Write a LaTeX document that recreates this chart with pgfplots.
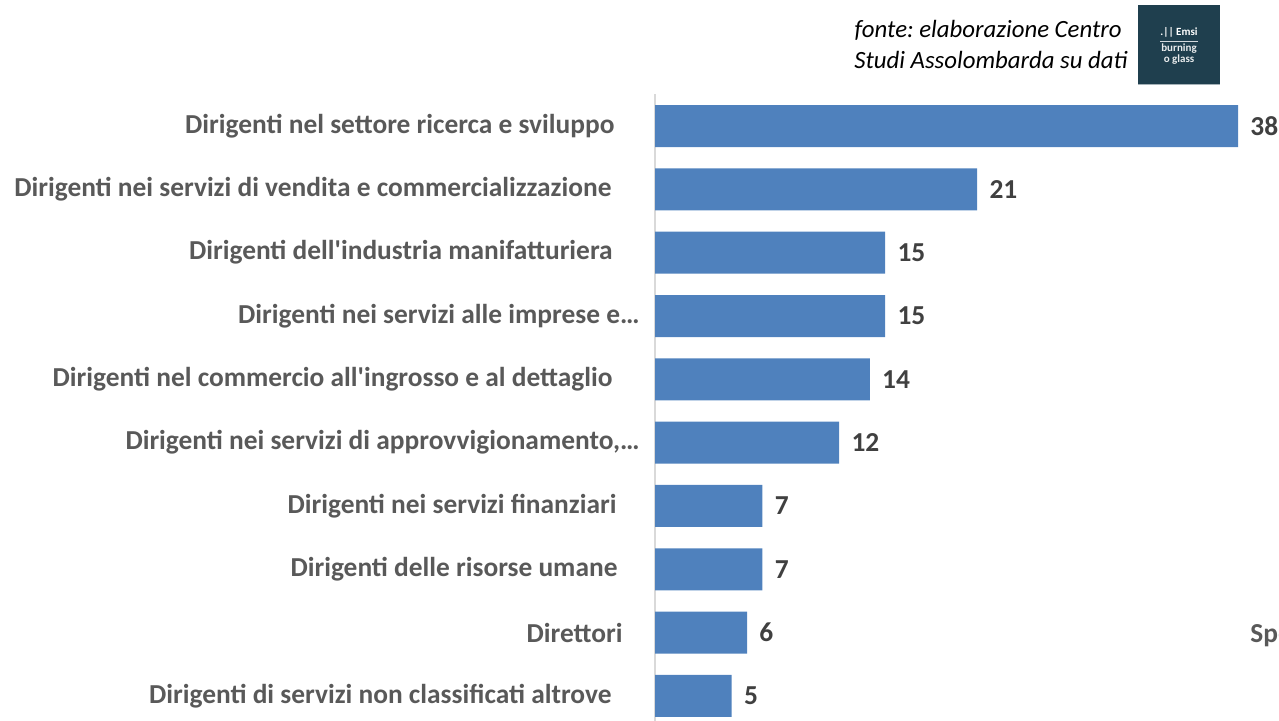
\documentclass[border=0pt]{standalone}
\usepackage{pgfplots}
\pgfplotsset{compat=1.18}
\usepackage{fontspec}
\setmainfont{Carlito}
\frenchspacing
\definecolor{barblue}{HTML}{4F81BD}
\definecolor{labgray}{HTML}{595959}
\definecolor{valgray}{HTML}{404040}
\definecolor{logobg}{HTML}{1F3F4E}
\begin{document}
\begin{tikzpicture}
\useasboundingbox (0,0) rectangle (639.5pt,360.5pt);
\begin{axis}[
  at={(327.5pt,-3.325pt)}, anchor=south west,
  scale only axis, width=291.5pt, height=316.65pt,
  xmin=0, xmax=38, ymin=-0.5, ymax=9.5,
  y dir=reverse,
  clip=false,
  hide x axis,
  axis y line*=left,
  y axis line style={draw=black!15, line width=0.6pt, -},
  major tick length=0pt,
  ytick={0,...,9},
  yticklabels={
    {Dirigenti nel settore ricerca e sviluppo\hspace*{12.5pt}},
    {Dirigenti nei servizi di vendita e commercializzazione\hspace*{14pt}},
    {Dirigenti dell\textquotesingle industria manifatturiera\hspace*{13.5pt}},
    {Dirigenti nei servizi alle imprese e…},
    {Dirigenti nel commercio all\textquotesingle ingrosso e al dettaglio\hspace*{13.5pt}},
    {Dirigenti nei servizi di approvvigionamento,…},
    {Dirigenti nei servizi finanziari\hspace*{11.5pt}},
    {Dirigenti delle risorse umane\hspace*{11pt}},
    {Direttori\hspace*{8.5pt}},
    {Dirigenti di servizi non classificati altrove\hspace*{14pt}}},
  yticklabel style={font=\bfseries\fontsize{13.7}{15}\selectfont, text=labgray, inner sep=0pt, anchor=east, xshift=-7.5pt},
  point meta=x,
  nodes near coords={\pgfmathprintnumber[assume math mode=true]{\pgfplotspointmeta}},
  nodes near coords style={font=\bfseries\fontsize{13.7}{15}\selectfont, text=valgray, anchor=west, inner sep=0pt, xshift=6pt},
]
\addplot[xbar, bar width=21pt, fill=barblue, draw=none, bar shift=0pt]
  coordinates {(38,0) (21,1) (15,2) (15,3) (14,4) (12,5) (7,6) (7,7) (6,8) (5,9)};
\end{axis}
% source note
\node[anchor=east, inner sep=0pt, font=\itshape\fontsize{12.4}{15}\selectfont] at (561pt,345.5pt) {fonte: elaborazione Centro};
\node[anchor=east, inner sep=0pt, font=\itshape\fontsize{12.4}{15}\selectfont] at (564pt,330.5pt) {Studi Assolombarda su dati};
% logo
\fill[logobg] (569pt,318pt) rectangle (610pt,358pt);
\draw[white!60!logobg, line width=0.6pt] (569pt,318.3pt) -- (610pt,318.3pt);
\node[text=white, font=\bfseries\fontsize{5.5}{6}\selectfont, inner sep=0pt] at (589.5pt,344.5pt) {.\textbar\textbar\ Emsi};
\draw[white!80!logobg, line width=0.3pt] (580pt,339.8pt) -- (599pt,339.8pt);
\node[text=white!90!logobg, font=\bfseries\fontsize{5.5}{5.2}\selectfont, inner sep=0pt, align=center] at (589.5pt,333.5pt) {burning\\o glass};
% cut-off label at right edge
\node[anchor=west, inner sep=0pt, text=labgray, font=\bfseries\fontsize{13.7}{15}\selectfont] at (625pt,43pt) {Specialisti};
\end{tikzpicture}
\end{document}
